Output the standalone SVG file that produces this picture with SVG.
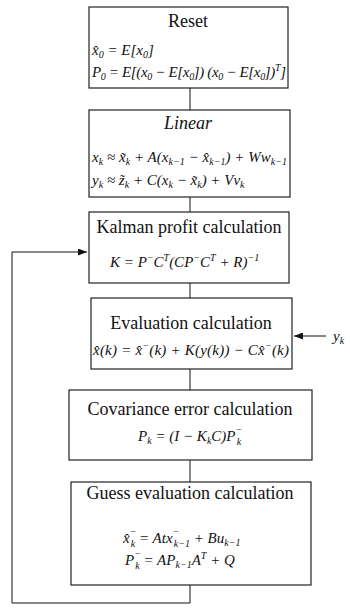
<svg xmlns="http://www.w3.org/2000/svg" width="350" height="609" viewBox="0 0 350 609">
<style>
.box{fill:#fff;stroke:#222;stroke-width:1.2}
.ttl{font-family:"Liberation Serif","Times New Roman",serif;font-size:18px;fill:#111;text-anchor:middle}
.it{font-style:italic}
.f{font-family:"Liberation Serif","Times New Roman",serif;font-style:italic;font-size:15px;fill:#111}
.s{font-size:10px}
.ln{fill:none;stroke:#111;stroke-width:1}
</style>
<defs>
<marker id="ah" markerWidth="9" markerHeight="7" refX="9" refY="3.5" orient="auto" markerUnits="userSpaceOnUse"><path d="M0,0 L9,3.5 L0,7 z" fill="#111"/></marker>
</defs>
<rect width="350" height="609" fill="#fff"/>
<g id="connectors">
<path class="ln" d="M190,88V110 M190,197V212 M190,283V298 M190,369V390 M190,460V482"/>
<path class="ln" d="M190,585V603H12V252H87" marker-end="url(#ah)"/>
<path class="ln" d="M326,336H294" marker-end="url(#ah)"/>
<text class="f" x="333" y="341" font-size="16">y<tspan class="s" dy="3">k</tspan></text>
</g>
<g id="reset">
<rect class="box" x="89" y="7" width="199" height="81"/>
<text class="ttl" x="188" y="27">Reset</text>
<text class="f" x="92" y="55">x̂<tspan class="s" dy="3">0</tspan><tspan dy="-3"> = E[x</tspan><tspan class="s" dy="3">0</tspan><tspan dy="-3">]</tspan></text>
<text class="f" x="92" y="77" textLength="194" lengthAdjust="spacing">P<tspan class="s" dy="3">0</tspan><tspan dy="-3"> = E[(x</tspan><tspan class="s" dy="3">0</tspan><tspan dy="-3"> − E[x</tspan><tspan class="s" dy="3">0</tspan><tspan dy="-3">])  (x</tspan><tspan class="s" dy="3">0</tspan><tspan dy="-3"> − E[x</tspan><tspan class="s" dy="3">0</tspan><tspan dy="-3">])</tspan><tspan class="s" dy="-6">T</tspan><tspan dy="6">]</tspan></text>
</g>
<g id="linear">
<rect class="box" x="89" y="110" width="201" height="87"/>
<text class="ttl it" x="188" y="129">Linear</text>
<text class="f" x="92" y="162" textLength="195" lengthAdjust="spacing">x<tspan class="s" dy="3">k</tspan><tspan dy="-3"> ≈ x̃</tspan><tspan class="s" dy="3">k</tspan><tspan dy="-3"> + A(x</tspan><tspan class="s" dy="3">k−1</tspan><tspan dy="-3"> − x̂</tspan><tspan class="s" dy="3">k−1</tspan><tspan dy="-3">) + Ww</tspan><tspan class="s" dy="3">k−1</tspan></text>
<text class="f" x="92" y="185">y<tspan class="s" dy="3">k</tspan><tspan dy="-3"> ≈ z̃</tspan><tspan class="s" dy="3">k</tspan><tspan dy="-3"> + C(x</tspan><tspan class="s" dy="3">k</tspan><tspan dy="-3"> − x̃</tspan><tspan class="s" dy="3">k</tspan><tspan dy="-3">) + Vv</tspan><tspan class="s" dy="3">k</tspan></text>
</g>
<g id="kalman">
<rect class="box" x="89" y="212" width="200" height="71"/>
<text class="ttl" x="189" y="233">Kalman profit calculation</text>
<text class="f" x="110" y="267">K = P<tspan class="s" dy="-6">−</tspan><tspan dy="6">C</tspan><tspan class="s" dy="-6">T</tspan><tspan dy="6">(CP</tspan><tspan class="s" dy="-6">−</tspan><tspan dy="6">C</tspan><tspan class="s" dy="-6">T</tspan><tspan dy="6"> + R)</tspan><tspan class="s" dy="-6">−1</tspan></text>
</g>
<g id="evaluation">
<rect class="box" x="91" y="298" width="201" height="71"/>
<text class="ttl" x="191" y="329">Evaluation calculation</text>
<text class="f" x="93" y="355" textLength="196" lengthAdjust="spacing">x̂(k) = x̂<tspan class="s" dy="-6">−</tspan><tspan dy="6">(k) + K(y(k)) − Cx̂</tspan><tspan class="s" dy="-6">−</tspan><tspan dy="6">(k)</tspan></text>
</g>
<g id="covariance">
<rect class="box" x="69" y="390" width="243" height="70"/>
<text class="ttl" x="190" y="415">Covariance error calculation</text>
<text class="f" x="138" y="441">P<tspan class="s" dy="3">k</tspan><tspan dy="-3"> = (I − K</tspan><tspan class="s" dy="3">k</tspan><tspan dy="-3">C)P</tspan><tspan class="s" dy="-8">−</tspan><tspan class="s" dx="-5.6" dy="12">k</tspan></text>
</g>
<g id="guess">
<rect class="box" x="71" y="482" width="240" height="103"/>
<text class="ttl" x="190" y="499">Guess evaluation calculation</text>
<text class="f" x="123" y="543">x̂<tspan class="s" dy="-8">−</tspan><tspan class="s" dx="-5.6" dy="12">k</tspan><tspan dy="-4"> = Atx</tspan><tspan class="s" dy="-8">−</tspan><tspan class="s" dx="-5.6" dy="12">k−1</tspan><tspan dy="-4"> + Bu</tspan><tspan class="s" dy="3">k−1</tspan></text>
<text class="f" x="125" y="565">P<tspan class="s" dy="-8">−</tspan><tspan class="s" dx="-5.6" dy="12">k</tspan><tspan dy="-4"> = AP</tspan><tspan class="s" dy="3">k−1</tspan><tspan dy="-3">A</tspan><tspan class="s" dy="-6">T</tspan><tspan dy="6"> + Q</tspan></text>
</g>
</svg>
